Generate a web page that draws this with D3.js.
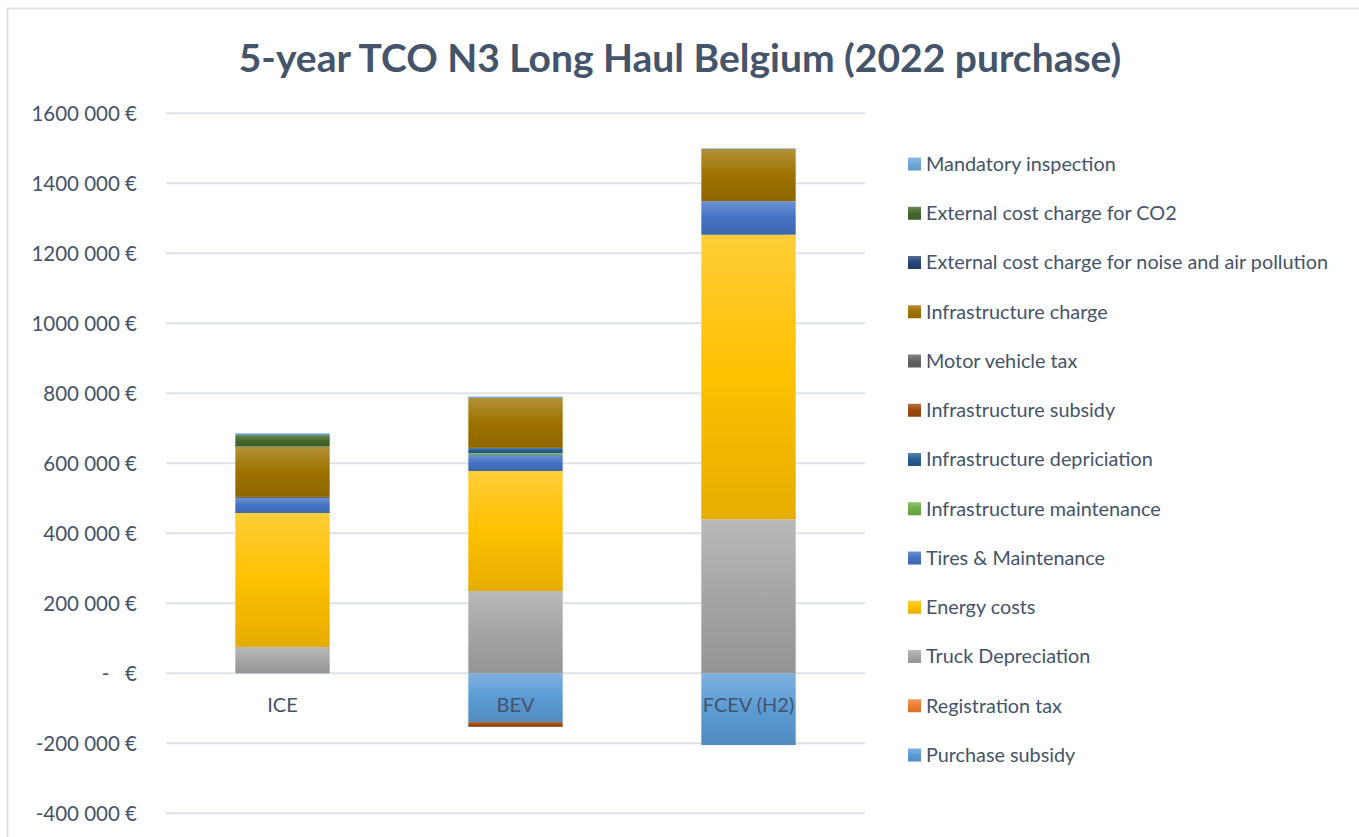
<!DOCTYPE html>
<html><head><meta charset="utf-8">
<script src="https://cdn.jsdelivr.net/npm/d3@7"></script>
<style>body{margin:0;background:#fff;} svg{display:block;}</style>
</head><body>
<svg id="chart" width="1359" height="837"></svg>
<script>
const categories = ["ICE", "BEV", "FCEV (H2)"];
// series in stacking order (bottom to top)
const seriesNames = ["Purchase subsidy","Registration tax","Truck Depreciation","Energy costs","Tires & Maintenance","Infrastructure maintenance","Infrastructure depriciation","Infrastructure subsidy","Motor vehicle tax","Infrastructure charge","External cost charge for noise and air pollution","External cost charge for CO2","Mandatory inspection"];
const seriesColors = ["#5b9bd5","#ed7d31","#a5a5a5","#ffc000","#4472c4","#70ad47","#255e91","#9e480e","#636363","#9e7200","#264478","#43682b","#6fa8dc"];
const purchaseSubsidy = [0, -139000, -205000];
const registrationTax = [0, 0, 0];
const truckDepreciation = [75000, 235000, 440000];
const energyCosts = [383000, 343000, 813000];
const tiresMaintenance = [43000, 46000, 96000];
const infraMaintenance = [0, 5000, 0];
const infraDepreciation = [0, 15000, 0];
const infraSubsidy = [0, -14000, 0];
const motorVehicleTax = [3000, 0, 0];
const infraCharge = [143000, 143000, 149000];
const externalNoise = [1000, 0, 0];
const externalCO2 = [33000, 0, 0];
const mandatoryInspection = [5000, 4000, 2000];
const yTicks = [-400000,-200000,0,200000,400000,600000,800000,1000000,1200000,1400000,1600000];
const yTickLabels = ["-400 000 €","-200 000 €","-   €","200 000 €","400 000 €","600 000 €","800 000 €","1000 000 €","1200 000 €","1400 000 €","1600 000 €"];
const title = "5-year TCO N3 Long Haul Belgium (2022 purchase)";

const seriesValues = [purchaseSubsidy,registrationTax,truckDepreciation,energyCosts,tiresMaintenance,infraMaintenance,infraDepreciation,infraSubsidy,motorVehicleTax,infraCharge,externalNoise,externalCO2,mandatoryInspection];
const rows = categories.map((c,i)=>{const r={cat:c}; seriesNames.forEach((s,j)=>r[s]=seriesValues[j][i]); return r;});

const svg = d3.select("#chart");
const font = "Lato, 'Open Sans', sans-serif";
const textColor = "#44546a";

// frame
svg.append("rect").attr("x",7.5).attr("y",8.5).attr("width",1400).attr("height",900)
  .attr("fill","none").attr("stroke","#dde1e6").attr("stroke-width",2);

const defs = svg.append("defs");
seriesColors.forEach((c,i)=>{
  const g = defs.append("linearGradient").attr("id","g"+i).attr("x1",0).attr("y1",0).attr("x2",0).attr("y2",1);
  const base = d3.color(c);
  g.append("stop").attr("offset","0%").attr("stop-color", d3.interpolateRgb(c,"#ffffff")(0.22));
  g.append("stop").attr("offset","50%").attr("stop-color", c);
  g.append("stop").attr("offset","100%").attr("stop-color", base.darker(0.3));
});

const x = d3.scaleBand().domain(categories).range([166,865]).paddingInner(0.595).paddingOuter(0.2975);
const y = d3.scaleLinear().domain([-400000,1600000]).range([813.3,113.3]);

// gridlines
svg.append("g").selectAll("line").data(yTicks).join("line")
  .attr("x1",166).attr("x2",865).attr("y1",d=>y(d)).attr("y2",d=>y(d))
  .attr("stroke","#dfe3e8").attr("stroke-width",2);

// y axis labels
const yAxis = d3.axisLeft(y).tickValues(yTicks).tickFormat((d,i)=>yTickLabels[i]).tickSize(0).tickPadding(0);
const ya = svg.append("g").attr("transform","translate(137,0)").call(yAxis);
ya.select(".domain").remove();
ya.selectAll("text").attr("font-family",font).attr("font-size",20.5).attr("fill",textColor).attr("dy","0.35em").style("white-space","pre").attr("xml:space","preserve");

// stacks
const stack = d3.stack().keys(seriesNames).offset(d3.stackOffsetDiverging);
const layers = stack(rows);
svg.append("g").selectAll("g").data(layers).join("g")
  .attr("fill",(d,i)=>`url(#g${i})`)
  .selectAll("rect").data(d=>d.filter(e=>e[1]!==e[0])).join("rect")
  .attr("x",d=>x(d.data.cat)).attr("width",x.bandwidth())
  .attr("y",d=>y(Math.max(d[0],d[1]))).attr("height",d=>Math.abs(y(d[0])-y(d[1])));

// category labels
svg.append("g").selectAll("text").data(categories).join("text")
  .attr("x",d=>x(d)+x.bandwidth()/2).attr("y",712)
  .attr("text-anchor","middle").attr("font-family",font).attr("font-size",20).attr("fill",textColor).text(d=>d);

// title
svg.append("text").attr("x",680).attr("y",72).attr("text-anchor","middle")
  .attr("font-family",font).attr("font-weight","bold").attr("font-size",39).attr("fill",textColor).text(title);

// legend (reverse order)
const legendItems = seriesNames.map((s,i)=>({name:s,i})).reverse();
const lg = svg.append("g").selectAll("g").data(legendItems).join("g")
  .attr("transform",(d,k)=>`translate(908,${164 + k*49.25})`);
lg.append("rect").attr("x",0).attr("y",-6.5).attr("width",13).attr("height",13).attr("fill",d=>`url(#g${d.i})`);
lg.append("text").attr("x",18).attr("y",0).attr("dy","0.35em").attr("font-family",font).attr("font-size",19.8).attr("fill",textColor).text(d=>d.name);
</script>
</body></html>
